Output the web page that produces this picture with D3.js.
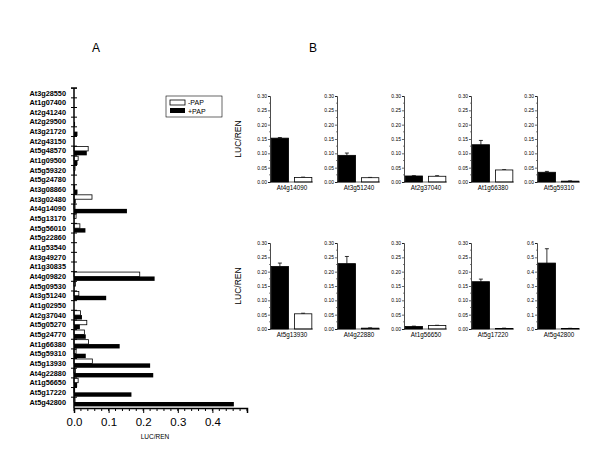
<!DOCTYPE html>
<html>
<head>
<meta charset="utf-8" />
<title></title>
<script src="https://cdn.jsdelivr.net/npm/d3@7"></script>
<style>
    body { margin: 0; background: #fff; }
    svg text { font-family: Arial, "Liberation Sans", sans-serif; fill: #000; }
</style>
</head>
<body>
<svg width="600" height="450"></svg>
<script>
    // panel A: all promoters
    var genesA = ["At3g28550","At1g07400","At2g41240","At2g29500","At3g21720","At2g43150","At5g48570",
        "At1g09500","At5g59320","At5g24780","At3g08860","At3g02480","At4g14090","At5g13170","At5g56010",
        "At5g22860","At1g53540","At3g49270","At1g30835","At4g09820","At5g09530","At3g51240","At1g02950",
        "At2g37040","At5g05270","At5g24770","At1g66380","At5g59310","At5g13930","At4g22880","At1g56650",
        "At5g17220","At5g42800"];
    var minusPAP = [0,0,0,0,0,0,0.041,0.012,0.003,0,0.002,0.052,0.003,0.006,0.017,0,0,0,0,0.19,0.004,
        0.014,0,0.019,0.037,0.030,0.042,0.006,0.053,0.004,0.012,0.002,0.003];
    var plusPAP = [0,0,0,0.003,0.010,0,0.037,0.010,0.002,0,0.010,0.005,0.153,0.001,0.033,0,0,0,0,0.233,0.001,
        0.093,0,0.023,0.017,0.034,0.132,0.034,0.220,0.229,0.009,0.166,0.462];
    var xTicksA = [0, 0.1, 0.2, 0.3, 0.4];

    // panel B: selected promoters
    var genesB = ["At4g14090","At3g51240","At2g37040","At1g66380","At5g59310",
        "At5g13930","At4g22880","At1g56650","At5g17220","At5g42800"];
    var plusB = [0.153,0.093,0.021,0.130,0.034,0.218,0.228,0.009,0.165,0.460];
    var plusErr = [0.002,0.008,0.001,0.015,0.003,0.012,0.025,0.001,0.009,0.100];
    var minusB = [0.016,0.015,0.020,0.042,0.003,0.053,0.003,0.012,0.002,0.004];
    var minusErr = [0.001,0.001,0.002,0.001,0.001,0.002,0.001,0.001,0.001,0.001];
    var yMaxB = [0.3,0.3,0.3,0.3,0.3,0.3,0.3,0.3,0.3,0.6];

    var svg = d3.select("svg");

    // ---------- A ----------
    var x = d3.scaleLinear().domain([0, 0.5]).range([74, 247]);
    var y = d3.scalePoint().domain(genesA).range([93, 402]);
    var bh = 4.4;

    svg.append("text").attr("x", 96).attr("y", 52).attr("text-anchor", "middle")
        .style("font-size", "12px").text("A");

    var gA = svg.append("g");
    gA.selectAll("rect.m").data(genesA).enter().append("rect")
        .attr("x", x(0)).attr("y", function (d) { return y(d) - bh; })
        .attr("width", function (d, i) { return x(minusPAP[i]) - x(0); })
        .attr("height", bh).attr("fill", "#fff").attr("stroke", "#000").attr("stroke-width", 0.8);
    gA.selectAll("rect.p").data(genesA).enter().append("rect")
        .attr("x", x(0)).attr("y", function (d) { return y(d); })
        .attr("width", function (d, i) { return x(plusPAP[i]) - x(0); })
        .attr("height", bh).attr("fill", "#000");

    // y axis with cross ticks
    gA.append("line").attr("x1", 74).attr("x2", 74).attr("y1", y.range()[0] - 5).attr("y2", 408)
        .attr("stroke", "#000").attr("stroke-width", 1.5);
    gA.selectAll("line.t").data(genesA).enter().append("line")
        .attr("x1", 71).attr("x2", 77)
        .attr("y1", function (d) { return y(d) - 4.8; }).attr("y2", function (d) { return y(d) - 4.8; })
        .attr("stroke", "#000").attr("stroke-width", 1);
    gA.append("line").attr("x1", 71).attr("x2", 77).attr("y1", 88).attr("y2", 88)
        .attr("stroke", "#000").attr("stroke-width", 1.2);
    gA.selectAll("text.g").data(genesA).enter().append("text")
        .attr("x", 66).attr("y", function (d) { return y(d) + 2.5; })
        .attr("text-anchor", "end").style("font-size", "7.3px").style("font-weight", "bold")
        .text(function (d) { return d; });

    // x axis
    var xAxis = d3.axisBottom(x).tickValues(xTicksA).tickSize(5).tickFormat(d3.format(".1f"));
    var gx = svg.append("g").attr("transform", "translate(0,408)").call(xAxis);
    gx.select(".domain").attr("stroke-width", 1.5);
    gx.selectAll("text").style("font-size", "11.5px").attr("dy", "0.9em");
    gx.selectAll("line.minor").data(d3.range(0, 0.501, 0.02)).enter().append("line")
        .attr("class", "minor").attr("x1", function (d) { return x(d); }).attr("x2", function (d) { return x(d); })
        .attr("y1", 0).attr("y2", 3).attr("stroke", "#000");
    svg.append("text").attr("x", 155).attr("y", 439).attr("text-anchor", "middle")
        .style("font-size", "6.5px").text("LUC/REN");

    // legend
    var lg = svg.append("g").attr("transform", "translate(166,96)");
    lg.append("rect").attr("width", 56).attr("height", 21).attr("fill", "#fff").attr("stroke", "#000").attr("stroke-width", 0.6);
    lg.append("rect").attr("x", 4).attr("y", 4).attr("width", 15).attr("height", 5)
        .attr("fill", "#fff").attr("stroke", "#000").attr("stroke-width", 0.8);
    lg.append("rect").attr("x", 4).attr("y", 12).attr("width", 15).attr("height", 5).attr("fill", "#000");
    lg.append("text").attr("x", 22).attr("y", 9).style("font-size", "7px").text("-PAP");
    lg.append("text").attr("x", 22).attr("y", 17.5).style("font-size", "7px").text("+PAP");

    // ---------- B ----------
    svg.append("text").attr("x", 313, 0).attr("y", 52).attr("text-anchor", "middle")
        .style("font-size", "12px").text("B");

    var colX = [270, 337, 404, 471, 537];
    var rowTop = [96, 243];
    var ph = 86;

    [0, 1].forEach(function (r) {
        svg.append("text")
            .attr("transform", "translate(241," + (rowTop[r] + ph / 2) + ") rotate(-90)")
            .attr("text-anchor", "middle").style("font-size", "8.5px").text("LUC/REN");
    });

    genesB.forEach(function (gname, i) {
        var r = Math.floor(i / 5), c = i % 5;
        var x0 = colX[c], top = rowTop[r];
        var g = svg.append("g").attr("transform", "translate(" + x0 + "," + top + ")");
        var ys = d3.scaleLinear().domain([0, yMaxB[i]]).range([ph, 0]);
        var xs = d3.scaleBand().domain(["+PAP", "-PAP"]).range([0, 43]).paddingInner(0.25).paddingOuter(0.05);
        var step = yMaxB[i] > 0.3 ? 0.1 : 0.05;
        var fmt = yMaxB[i] > 0.3 ? d3.format(".1f") : d3.format(".2f");

        var vals = [{k: "+PAP", v: plusB[i], e: plusErr[i]}, {k: "-PAP", v: minusB[i], e: minusErr[i]}];
        g.selectAll("line.err").data(vals).enter().append("path")
            .attr("d", function (d) {
                var cx = xs(d.k) + xs.bandwidth() / 2;
                return "M" + cx + "," + ys(d.v) + "V" + ys(d.v + d.e) + "M" + (cx - 2) + "," + ys(d.v + d.e) + "H" + (cx + 2);
            })
            .attr("stroke", "#000").attr("stroke-width", 0.8).attr("fill", "none");
        g.selectAll("rect").data(vals).enter().append("rect")
            .attr("x", function (d) { return xs(d.k); }).attr("y", function (d) { return ys(d.v); })
            .attr("width", xs.bandwidth()).attr("height", function (d) { return ph - ys(d.v); })
            .attr("fill", function (d) { return d.k === "+PAP" ? "#000" : "#fff"; })
            .attr("stroke", "#000").attr("stroke-width", 0.8);

        var yAxis = d3.axisLeft(ys).tickValues(d3.range(0, yMaxB[i] + 1e-9, step)).tickSize(2).tickFormat(fmt);
        var ga = g.append("g").call(yAxis);
        ga.select(".domain").attr("stroke-width", 0.7);
        ga.selectAll("line").attr("stroke-width", 0.6);
        ga.selectAll("text").style("font-size", "5px").attr("x", -3);
        ga.selectAll("line.minor").data(d3.range(step / 2, yMaxB[i], step)).enter().append("line")
            .attr("class", "minor").attr("x1", -1).attr("x2", 0)
            .attr("y1", function (d) { return ys(d); }).attr("y2", function (d) { return ys(d); })
            .attr("stroke", "#000").attr("stroke-width", 0.5);
        g.append("line").attr("x1", 0).attr("x2", 43).attr("y1", ph).attr("y2", ph)
            .attr("stroke", "#000").attr("stroke-width", 0.6);
        g.append("text").attr("x", 22).attr("y", ph + 8).attr("text-anchor", "middle")
            .style("font-size", "6.3px").text(gname);
    });
</script>
</body>
</html>
